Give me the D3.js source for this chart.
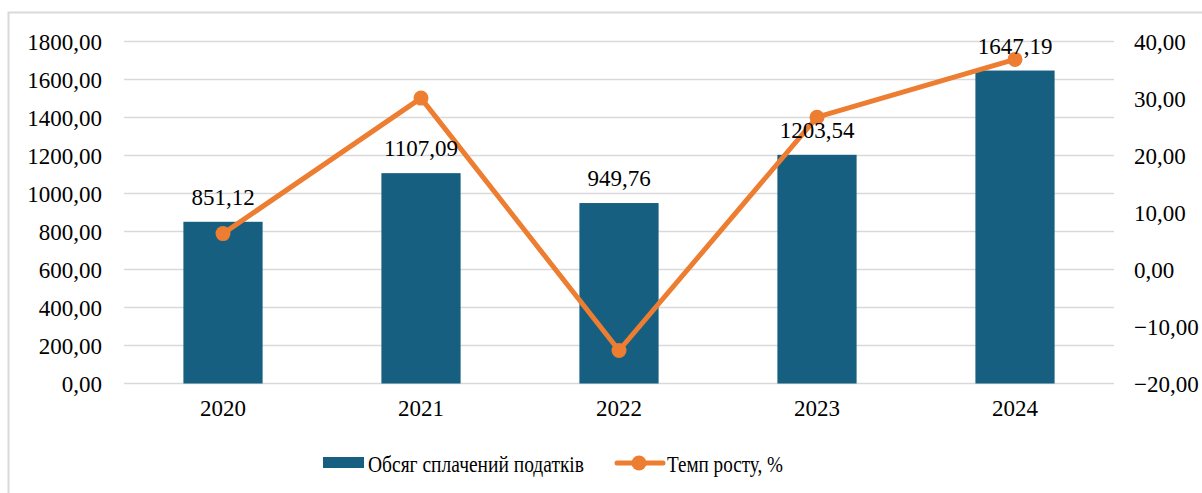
<!DOCTYPE html>
<html>
<head>
<meta charset="utf-8">
<script src="https://d3js.org/d3.v7.min.js"></script>
</head>
<body style="margin:0;background:#fff">
<div id="chart"></div>
<script>
// data
var years = ["2020", "2021", "2022", "2023", "2024"];
var taxes = [851.12, 1107.09, 949.76, 1203.54, 1647.19];
var growth = [6.3, 30.07, -14.21, 26.72, 36.86];
var leftTicks = [0, 200, 400, 600, 800, 1000, 1200, 1400, 1600, 1800];
var rightTicks = [-20, -10, 0, 10, 20, 30, 40];
var seriesNames = ["Обсяг сплачений податків", "Темп росту, %"];

var W = 1202, H = 493;
var margin = {top: 41.5, right: 88, bottom: 109.5, left: 124};
var width = W - margin.left - margin.right,
    height = H - margin.top - margin.bottom;

var FONT = "Liberation Serif";
var barColor = "#175f80", lineColor = "#ed7d31", gridColor = "#d9d9d9";
var fmt = function(v) { return d3.format(".2f")(v).replace(".", ","); };

function styleText(sel) {
  sel.attr("font-family", FONT).attr("font-size", 23)
    .style("font-family", FONT).style("font-size", "23px").attr("fill", "#000");
}

var svg = d3.select("#chart").append("svg")
  .attr("width", W).attr("height", H);

// outer border
svg.append("rect")
  .attr("x", 8.5).attr("y", 12.5)
  .attr("width", W + 10).attr("height", H + 10)
  .attr("fill", "none").attr("stroke", gridColor).attr("stroke-width", 2);

var g = svg.append("g")
  .attr("transform", "translate(" + margin.left + "," + margin.top + ")");

var x = d3.scaleBand().domain(years).range([0, width])
  .paddingInner(0.6).paddingOuter(0.3);
var y = d3.scaleLinear().domain([0, 1800]).range([height, 0]);
var y2 = d3.scaleLinear().domain([-20, 40]).range([height, 0]);

// grid lines
g.append("g").selectAll("line").data(leftTicks).enter().append("line")
  .attr("x1", 0).attr("x2", width)
  .attr("y1", function(d) { return y(d); }).attr("y2", function(d) { return y(d); })
  .attr("stroke", gridColor).attr("stroke-width", 1.5);

// left axis
var la = g.append("g")
  .call(d3.axisLeft(y).tickValues(leftTicks).tickFormat(fmt).tickSize(0).tickPadding(22));
la.select(".domain").remove();
la.attr("font-family", FONT);
styleText(la.selectAll("text").attr("dy", "0.33em"));

// right axis
var ra = g.append("g").attr("transform", "translate(" + width + ",0)")
  .call(d3.axisRight(y2).tickValues(rightTicks).tickFormat(fmt).tickSize(0).tickPadding(20));
ra.select(".domain").remove();
ra.attr("font-family", FONT);
styleText(ra.selectAll("text").attr("dy", "0.33em"));

// x axis
var xa = g.append("g").attr("transform", "translate(0," + height + ")")
  .call(d3.axisBottom(x).tickSize(0).tickPadding(16));
xa.select(".domain").remove();
xa.attr("font-family", FONT);
styleText(xa.selectAll("text").attr("dy", "0.71em"));

// bars
g.selectAll(".bar").data(taxes).enter().append("rect")
  .attr("class", "bar")
  .attr("x", function(d, i) { return x(years[i]); })
  .attr("width", x.bandwidth())
  .attr("y", function(d) { return y(d); })
  .attr("height", function(d) { return height - y(d); })
  .attr("fill", barColor);

// line
var line = d3.line()
  .x(function(d, i) { return x(years[i]) + x.bandwidth() / 2; })
  .y(function(d) { return y2(d); });
g.append("path").datum(growth)
  .attr("d", line)
  .attr("fill", "none").attr("stroke", lineColor)
  .attr("stroke-width", 5).attr("stroke-linejoin", "round");
g.selectAll(".dot").data(growth).enter().append("circle")
  .attr("cx", function(d, i) { return x(years[i]) + x.bandwidth() / 2; })
  .attr("cy", function(d) { return y2(d); })
  .attr("r", 7.5).attr("fill", lineColor);

// bar labels
styleText(g.selectAll(".lbl").data(taxes).enter().append("text")
  .attr("x", function(d, i) { return x(years[i]) + x.bandwidth() / 2; })
  .attr("y", function(d) { return y(d) - 17; })
  .attr("text-anchor", "middle")
  .text(fmt));

// legend (cyrillic glyphs in the original are narrower, so squeeze to fit)
var lg = svg.append("g");
lg.append("rect").attr("x", 323).attr("y", 457).attr("width", 41).attr("height", 11)
  .attr("fill", barColor);
styleText(lg.append("text").attr("x", 368).attr("y", 472).text(seriesNames[0]));
lg.select("text").attr("textLength", 216).attr("lengthAdjust", "spacingAndGlyphs");
lg.append("line").attr("x1", 617).attr("x2", 663).attr("y1", 463).attr("y2", 463)
  .attr("stroke", lineColor).attr("stroke-width", 5).attr("stroke-linecap", "round");
lg.append("circle").attr("cx", 639).attr("cy", 463).attr("r", 7.5).attr("fill", lineColor);
styleText(lg.append("text").attr("x", 667).attr("y", 472).text(seriesNames[1])
  .attr("textLength", 116).attr("lengthAdjust", "spacingAndGlyphs"));
</script>
</body>
</html>
